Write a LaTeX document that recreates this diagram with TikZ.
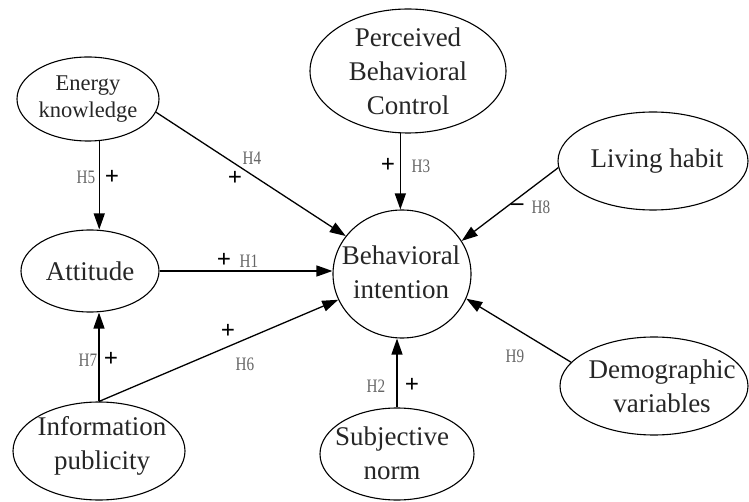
\documentclass[tikz,border=0pt]{standalone}
\usepackage{fontspec}
\setmainfont{Liberation Serif}
\newfontfamily\hypfont[FakeStretch=0.8]{Liberation Serif}
\usetikzlibrary{shapes.geometric,arrows.meta}
\begin{document}
\begin{tikzpicture}[x=1pt,y=-1pt,
  construct/.style={ellipse, draw, line width=1.1pt, inner sep=0pt},
  caption/.style={align=center, inner sep=0pt, text=black!85,
    font=\fontsize{27}{34}\selectfont},
  link/.style={line width=1.3pt, -{Triangle[length=16pt,width=11pt]}},
  hyp/.style={inner sep=0pt, text=black!60, font=\hypfont\fontsize{19}{19}\selectfont},
  sign/.style={inner sep=0pt, font=\bfseries\fontsize{25}{25}\selectfont}]

\useasboundingbox (0,0) rectangle (749,502);

% constructs
\node[construct, minimum width=142pt, minimum height=84pt] (ek) at (88,99) {};
\node[caption, font=\fontsize{22.5}{27}\selectfont] (ekT) at (88,99) {Energy\\knowledge};

\node[construct, minimum width=138pt, minimum height=82pt] (att) at (90,271) {};
\node[caption] (attT) at (90,271) {Attitude};

\node[construct, minimum width=172pt, minimum height=98pt] (ip) at (99,451) {};
\node[caption] (ipT) at (102,446) {Information\\publicity};

\node[construct, minimum width=196pt, minimum height=124pt] (pbc) at (408,71) {};
\node[caption] (pbcT) at (408,71) {Perceived\\Behavioral\\Control};

\node[construct, minimum width=138pt, minimum height=128pt] (bi) at (402,274) {};
\node[caption] (biT) at (401,272) {Behavioral\\intention};

\node[construct, minimum width=190pt, minimum height=98pt] (lh) at (653,161) {};
\node[caption] (lhT) at (657,161) {Living habit};

\node[construct, minimum width=188pt, minimum height=98pt] (dv) at (654,386) {};
\node[caption] (dvT) at (662,386) {Demographic\\variables};

\node[construct, minimum width=154pt, minimum height=92pt] (sn) at (397,454) {};
\node[caption] (snT) at (392,453) {Subjective\\norm};

% hypothesised paths
\draw[link] (ek.-75) -- (ek.-75 |- att.north);
\draw[link] (ek.-11) -- (bi.146);
\draw[link] (att.east) -- (att.east -| bi.west);
\draw[link] (ip.north) -- (ip.north |- att.south);
\draw[link] (ip.north) -- (bi.202);
\draw[link] (pbc.-97) -- (pbc.-97 |- bi.north);
\draw[link] (sn.north) -- (sn.north |- bi.south);
\draw[link] (lh.184) -- (bi.29);
\draw[link] (dv.164) -- (bi.-21);

% path labels
\node[hyp]  (h5) at (86,177) {H5};
\node[sign] (s5) at (112,177) {+};
\node[hyp]  (h4) at (252,158) {H4};
\node[sign] (s4) at (235,178) {+};
\node[sign] (s1) at (224,260) {+};
\node[hyp]  (h1) at (249,261) {H1};
\node[sign] (s6) at (228,331) {+};
\node[hyp]  (h6) at (245,364) {H6};
\node[hyp]  (h7) at (88,360) {H7};
\node[sign] (s7) at (111,359) {+};
\node[sign] (s3) at (388,165) {+};
\node[hyp]  (h3) at (421,166) {H3};
\node[hyp]  (h2) at (376,386) {H2};
\node[sign] (s2) at (412,385) {+};
\node[sign] (s8) at (517,207) {–};
\node[hyp]  (h8) at (541,207) {H8};
\node[hyp]  (h9) at (515,356) {H9};
\end{tikzpicture}
\end{document}
